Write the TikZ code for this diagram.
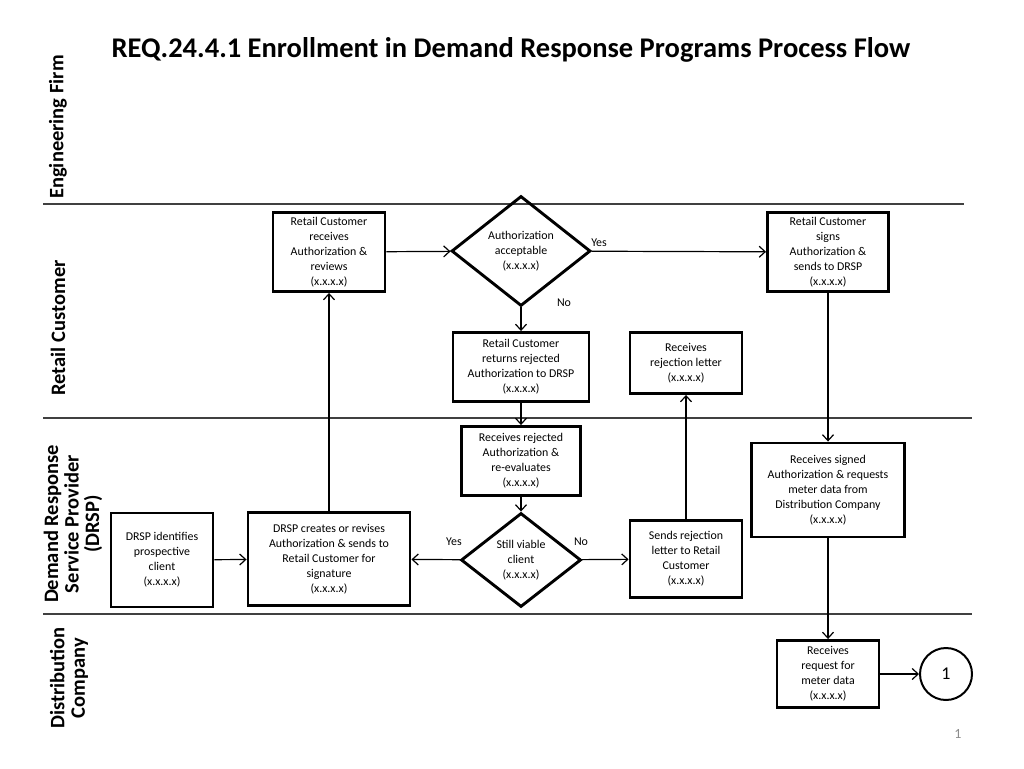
\documentclass[tikz,border=0pt]{standalone}
\usepackage{fontspec}
\setmainfont{Carlito}
\usetikzlibrary{shapes.geometric,arrows.meta}
\begin{document}
\begin{tikzpicture}[x=1pt,y=-1pt,
  box/.style={draw,line width=2.9pt,align=center,inner sep=0pt,font=\fontsize{11.9}{15}\selectfont},
  dec/.style={draw,diamond,line width=2.9pt,align=center,inner sep=0pt,font=\fontsize{11.9}{15}\selectfont},
  flow/.style={line width=1.2pt,-{Straight Barb[length=6pt,width=11pt,line width=1.2pt]}},
  lane/.style={line width=1.3pt,draw=black!75},
  lanelabel/.style={rotate=90,align=center,font=\fontsize{20.5}{20.5}\selectfont\bfseries},
  lbl/.style={font=\fontsize{11.9}{13}\selectfont,inner sep=0pt}]
\useasboundingbox (0,0) rectangle (1024,768);
\fill[white] (0,0) rectangle (1024,768);

% title
\node[font=\fontsize{28.5}{32}\selectfont\bfseries] (title) at (511,50) {REQ.24.4.1 Enrollment in Demand Response Programs Process Flow};

% lanes
\coordinate (l1a) at (43,204); \coordinate (l1b) at (964,204);
\coordinate (l2a) at (43,418); \coordinate (l2b) at (972,418);
\coordinate (l3a) at (43,614); \coordinate (l3b) at (972,614);
\draw[lane] (l1a) -- (l1b);
\draw[lane] (l2a) -- (l2b);
\draw[lane] (l3a) -- (l3b);

\node[lanelabel] (lane1) at (58,127) {Engineering Firm};
\node[lanelabel] (lane2) at (58,328) {Retail Customer};
\node[lanelabel] (lane3) at (73,524) {Demand Response\\Service Provider\\(DRSP)};
\node[lanelabel] (lane4) at (69,678) {Distribution\\Company};

% nodes
\node[box,minimum width=112,minimum height=79] (rcrev) at (329,252) {Retail Customer\\receives\\Authorization \&\\reviews\\(x.x.x.x)};
\node[dec,minimum width=139,minimum height=110] (acc) at (521,251) {Authorization\\acceptable\\(x.x.x.x)};
\node[box,minimum width=121,minimum height=79] (signs) at (828,252) {Retail Customer\\signs\\Authorization \&\\sends to DRSP\\(x.x.x.x)};
\node[box,minimum width=136,minimum height=69] (ret) at (521,367) {Retail Customer\\returns rejected\\Authorization to DRSP\\(x.x.x.x)};
\node[box,minimum width=112,minimum height=61] (rletter) at (686,363) {Receives\\rejection letter\\(x.x.x.x)};
\node[box,minimum width=119,minimum height=69] (reeval) at (521,461) {Receives rejected\\Authorization \&\\re-evaluates\\(x.x.x.x)};
\node[box,minimum width=153,minimum height=94] (rsigned) at (828,490) {Receives signed\\Authorization \& requests\\meter data from\\Distribution Company\\(x.x.x.x)};
\node[box,minimum width=102,minimum height=94] (ident) at (162,560) {DRSP identifies\\prospective\\client\\(x.x.x.x)};
\node[box,minimum width=162,minimum height=93] (creates) at (329,559) {DRSP creates or revises\\Authorization \& sends to\\Retail Customer for\\signature\\(x.x.x.x)};
\node[dec,minimum width=120,minimum height=94] (viable) at (521,560) {Still viable\\client\\(x.x.x.x)};
\node[box,minimum width=112,minimum height=77] (sends) at (686,559) {Sends rejection\\letter to Retail\\Customer\\(x.x.x.x)};
\node[box,minimum width=102,minimum height=67] (meter) at (828,674) {Receives\\request for\\meter data\\(x.x.x.x)};
\node[draw,circle,line width=2pt,minimum size=52,inner sep=0pt,font=\fontsize{18}{20}\selectfont] (conn) at (946,674) {1};

% connectors
\draw[flow] (rcrev) -- (acc);
\draw[flow] (acc) -- (signs);
\draw[flow] (acc) -- (ret);
\draw[flow] (ret) -- (reeval);
\draw[flow] (reeval) -- (viable);
\draw[flow] (viable) -- (creates);
\draw[flow] (viable) -- (sends);
\draw[flow] (sends) -- (rletter);
\draw[flow] (ident) -- (creates);
\draw[flow] (creates) -- (rcrev);
\draw[flow] (signs) -- (rsigned);
\draw[flow] (rsigned) -- (meter);
\draw[flow] (meter) -- (conn);

% labels
\node[lbl] (yes1) at (599,243) {Yes};
\node[lbl] (no1) at (564,303) {No};
\node[lbl] (yes2) at (454,542) {Yes};
\node[lbl] (no2) at (581,542) {No};

% page number
\node[font=\fontsize{14}{16}\selectfont,text=black!45] (page) at (958,734) {1};
\end{tikzpicture}
\end{document}
